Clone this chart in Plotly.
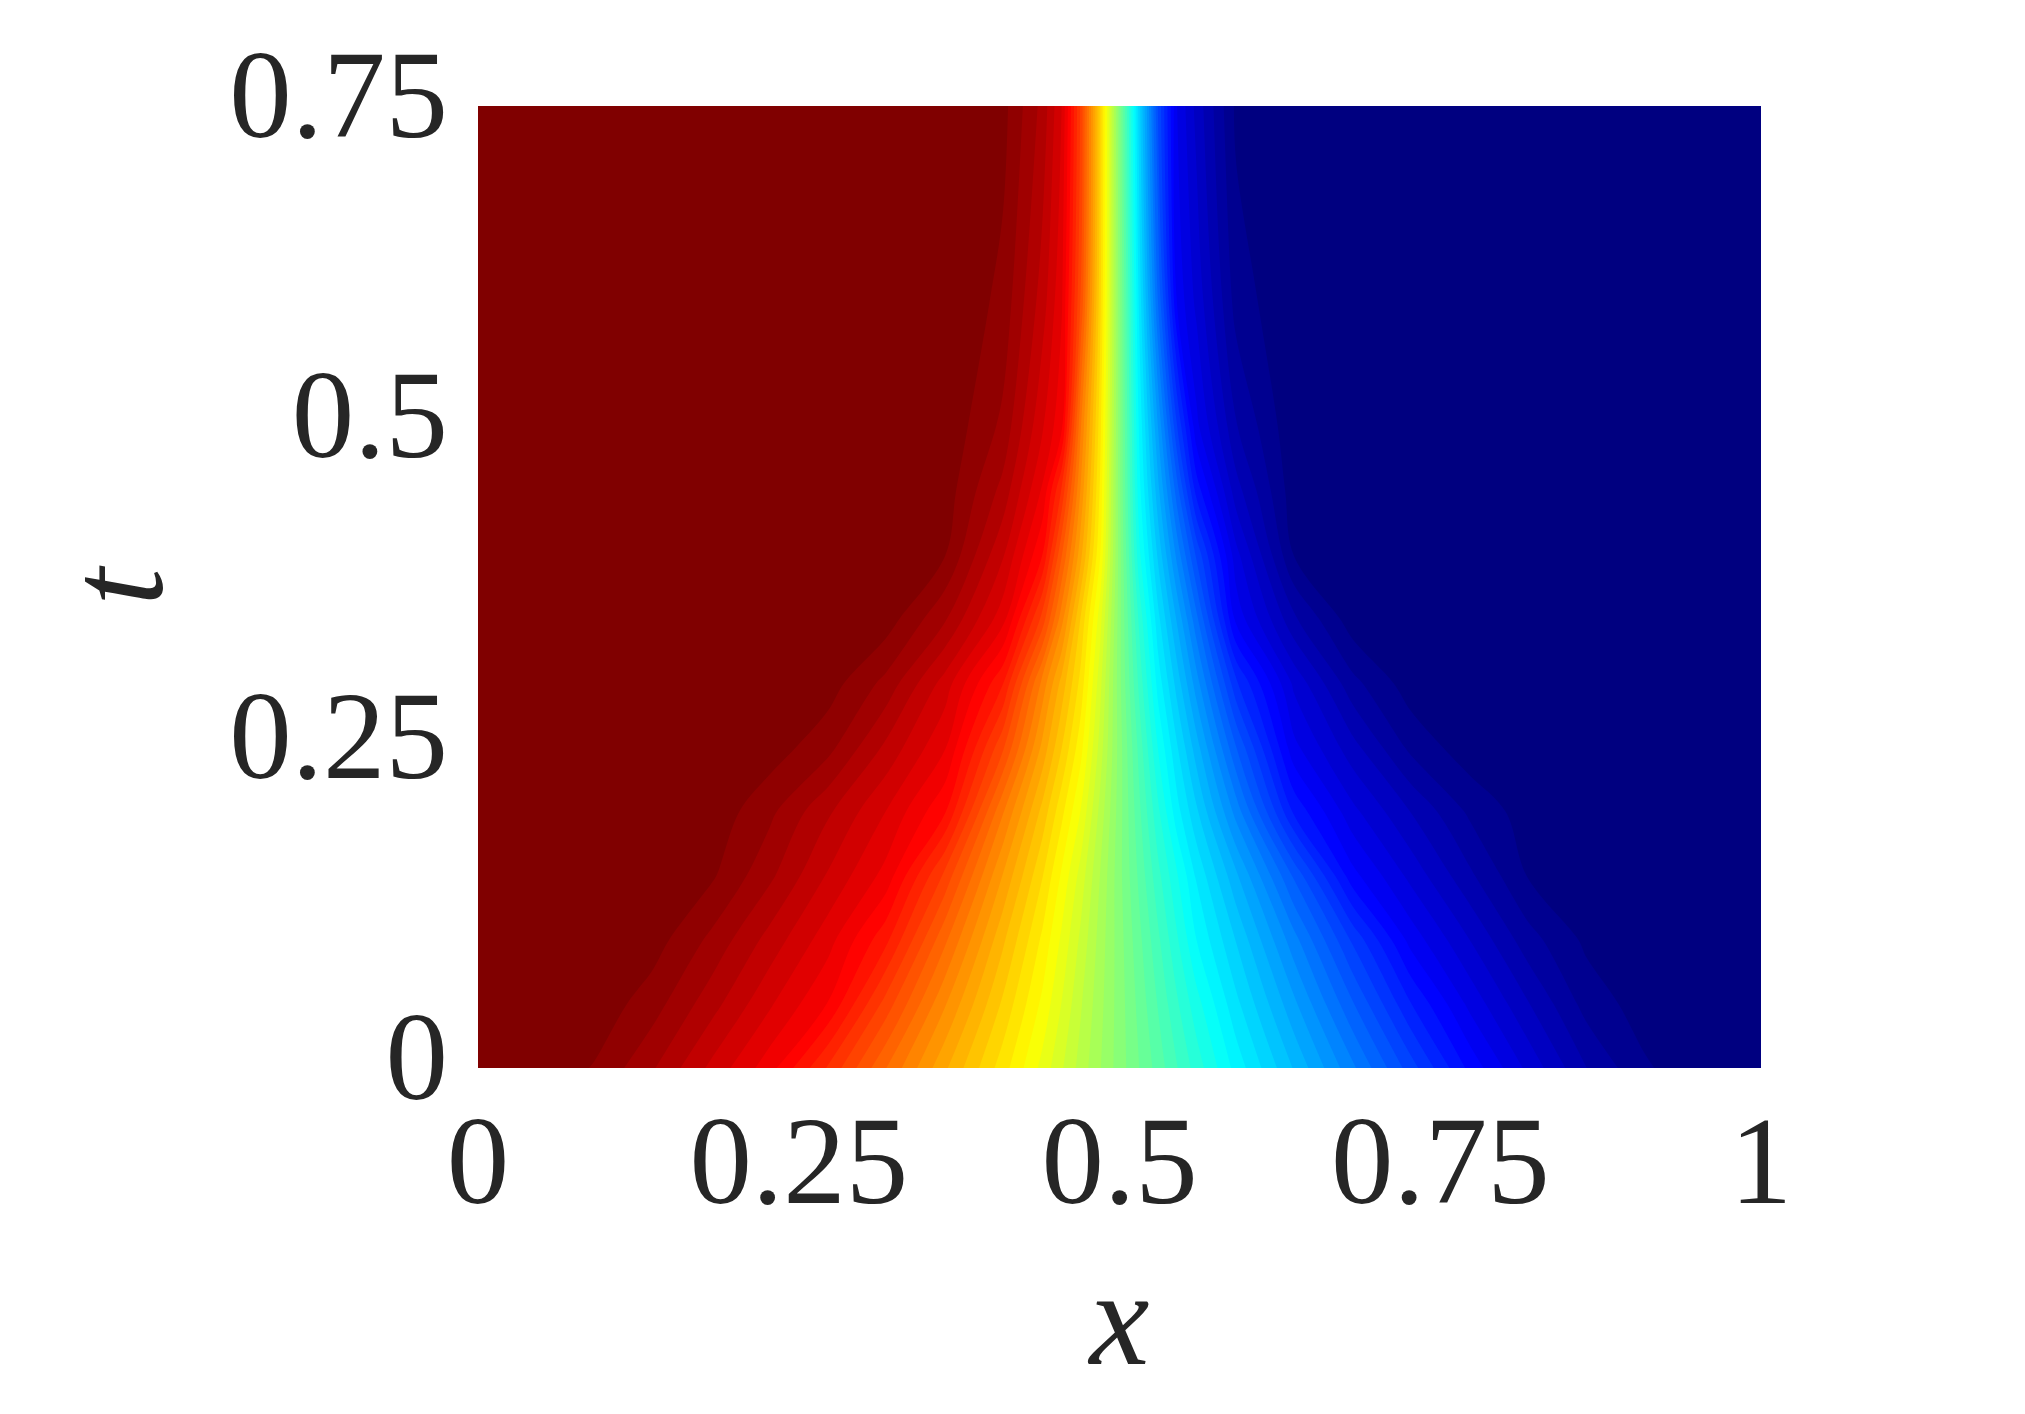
import plotly.graph_objects as go

# Grid
x_values = [0, .045, .091, .136, .182, .227, .273, .318, .364, .409, .44, .455, .47, .485, .5,
            .515, .53, .545, .56, .591, .636, .682, .727, .773, .818, .864, .909, .955, 1]
t_values = [0, .05, .1, .15, .2, .25, .3, .35, .4, .45, .5, .6, .75]

# Field values (0 = dark blue end of the colour scale, 1 = dark red end), one list per t
u_t000 = [1,.997,.983,.955,.918,.882,.826,.766,.706,.648,.604,.58,.556,.532,.508,.485,.462,.438,.415,.369,.311,.253,.195,.136,.09,.047,.018,.004,0]
u_t005 = [1,1,.995,.976,.944,.909,.874,.806,.736,.669,.621,.593,.564,.536,.508,.48,.452,.424,.397,.348,.285,.22,.157,.105,.064,.025,.008,.002,0]
u_t010 = [1,1,.999,.992,.965,.932,.897,.848,.769,.691,.637,.606,.574,.54,.507,.474,.441,.408,.375,.327,.256,.184,.119,.078,.038,.012,.003,.001,0]
u_t015 = [1,1,1,.998,.987,.957,.92,.885,.808,.718,.657,.622,.587,.546,.505,.466,.427,.392,.357,.30,.216,.13,.089,.05,.015,.004,.001,0,0]
u_t020 = [1,1,1,1,.995,.973,.94,.906,.861,.752,.682,.645,.608,.557,.507,.458,.41,.365,.331,.259,.153,.098,.062,.028,.008,.002,0,0,0]
u_t025 = [1,1,1,1,.999,.993,.974,.934,.892,.80,.714,.672,.63,.571,.508,.449,.39,.345,.304,.219,.114,.068,.027,.006,.001,0,0,0,0]
u_t030 = [1,1,1,1,1,.999,.992,.964,.915,.845,.744,.697,.65,.583,.505,.435,.369,.321,.273,.175,.09,.036,.007,.001,0,0,0,0,0]
u_t035 = [1,1,1,1,1,1,.999,.993,.955,.897,.806,.74,.669,.60,.506,.42,.349,.294,.239,.12,.05,.006,.001,0,0,0,0,0,0]
u_t040 = [1,1,1,1,1,1,1,.998,.985,.924,.859,.782,.707,.625,.507,.397,.325,.26,.20,.099,.015,.002,0,0,0,0,0,0,0]
u_t045 = [1,1,1,1,1,1,1,1,.993,.948,.888,.825,.731,.637,.505,.383,.302,.225,.15,.069,.006,.001,0,0,0,0,0,0,0]
u_t050 = [1,1,1,1,1,1,1,1,.997,.965,.908,.878,.75,.646,.506,.375,.281,.1875,.114,.048,.003,0,0,0,0,0,0,0,0]
u_t060 = [1,1,1,1,1,1,1,1,1,.98,.93,.893,.795,.661,.506,.358,.233,.121,.089,.024,.001,0,0,0,0,0,0,0,0]
u_t075 = [1,1,1,1,1,1,1,1,1,.99,.948,.906,.808,.667,.5,.339,.202,.109,.073,.012,.001,0,0,0,0,0,0,0,0]

u_rows = [u_t000, u_t005, u_t010, u_t015, u_t020, u_t025, u_t030, u_t035, u_t040,
          u_t045, u_t050, u_t060, u_t075]

x_ticks = [0, .25, .5, .75, 1]
x_tick_labels = ["0", "0.25", "0.5", "0.75", "1"]
t_ticks = [0, .25, .5, .75]
t_tick_labels = ["0", "0.25", "0.5", "0.75"]

jet = [[0, "rgb(0,0,128)"], [.125, "rgb(0,0,255)"], [.375, "rgb(0,255,255)"],
       [.625, "rgb(255,255,0)"], [.875, "rgb(255,0,0)"], [1, "rgb(128,0,0)"]]

TEXT = "#262626"
FONT = "Liberation Serif"

fig = go.Figure(go.Contour(
    x=x_values, y=t_values, z=u_rows,
    colorscale=jet, showscale=False,
    autocontour=False,
    contours=dict(coloring="fill", start=1/64, end=63/64, size=1/64, showlines=False),
    line=dict(width=0), hoverinfo="skip",
))

fig.update_layout(
    width=2025, height=1414,
    margin=dict(l=478, r=264, t=106, b=346, autoexpand=False),
    paper_bgcolor="white", plot_bgcolor="white", showlegend=False,
    font=dict(family=FONT, color=TEXT),
)
fig.update_xaxes(
    range=[0, 1], tickmode="array", tickvals=x_ticks, ticktext=x_tick_labels,
    showgrid=False, zeroline=False, showline=False,
    ticks="", ticklabelstandoff=9,
    tickfont=dict(size=125, family=FONT, color=TEXT), tickangle=0,
    title=dict(text="<i>x</i>", font=dict(size=135, family=FONT, color=TEXT), standoff=40),
)
fig.update_yaxes(
    range=[0, .75], tickmode="array", tickvals=t_ticks, ticktext=t_tick_labels,
    showgrid=False, zeroline=False, showline=False,
    ticks="outside", ticklen=4, tickcolor="rgba(0,0,0,0)", ticklabelshift=-13,
    tickfont=dict(size=125, family=FONT, color=TEXT),
    title=dict(text="<i>t</i>", font=dict(size=135, family=FONT, color=TEXT), standoff=21),
)

fig.write_html("out.html", config={"displayModeBar": False},
               post_script="document.body.style.margin='0';document.body.style.overflow='hidden';")
